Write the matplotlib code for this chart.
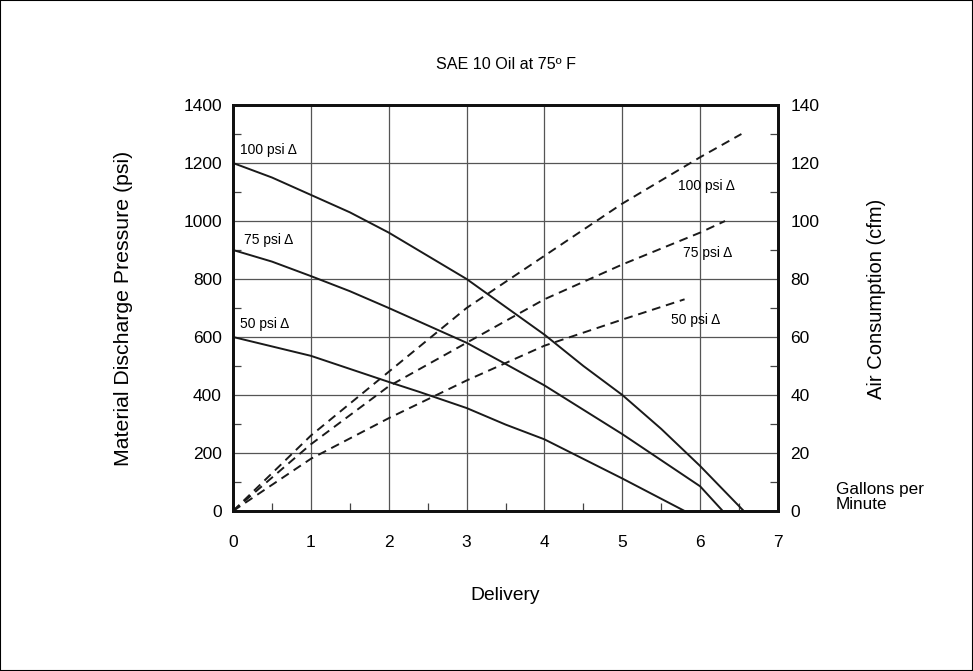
import numpy as np
import matplotlib
matplotlib.use('Agg')
import matplotlib.pyplot as plt
from matplotlib.patches import Rectangle
from matplotlib.ticker import MultipleLocator

plt.rcParams['font.family'] = ['Liberation Sans', 'DejaVu Sans']

# Delivery (gpm) vs material discharge pressure (psi), solid curves
x_p100 = [0, 0.5, 1, 1.5, 2, 3, 3.5, 4, 4.5, 5, 5.5, 6, 6.56]
p_100 = [1200, 1150, 1090, 1030, 960, 800, 704, 608, 500, 400, 283, 155, 0]
x_p75 = [0, 0.5, 1, 1.5, 2, 3, 3.5, 4, 5, 6, 6.29]
p_75 = [900, 860, 810, 758, 700, 580, 507, 433, 265, 85, 0]
x_p50 = [0, 1, 2, 2.4, 3, 3.5, 4, 5, 5.8]
p_50 = [600, 535, 445, 410, 355, 298, 247, 112, 0]

# Delivery vs air consumption (cfm), dashed curves
x_a100 = [0, 1, 2, 3, 4, 5, 6, 6.53]
a_100 = [0, 26, 48, 70, 88, 106, 122, 130]
x_a75 = [0, 1, 2, 3, 4, 5, 6, 6.32]
a_75 = [0, 23, 43, 58, 73, 85, 96, 100]
x_a50 = [0, 1, 2, 3, 4, 5, 5.8]
a_50 = [0, 18, 32, 45, 57, 66, 73]

fig = plt.figure(figsize=(9.73, 6.71), dpi=100)
ax = fig.add_axes([0.2395, 0.2385, 0.5601, 0.605])
ax2 = ax.twinx()

lc = '#1a1a1a'
for xs, ys in [(x_p100, p_100), (x_p75, p_75), (x_p50, p_50)]:
    ax.plot(xs, ys, '-', color=lc, lw=1.4)
for xs, ys in [(x_a100, a_100), (x_a75, a_75), (x_a50, a_50)]:
    ax2.plot(xs, ys, '--', color=lc, lw=1.4, dashes=(4.5, 3))

ax.set_xlim(0, 7)
ax.set_ylim(0, 1400)
ax2.set_ylim(0, 140)

ax.xaxis.set_major_locator(MultipleLocator(1))
ax.xaxis.set_minor_locator(MultipleLocator(0.5))
ax.yaxis.set_major_locator(MultipleLocator(200))
ax.yaxis.set_minor_locator(MultipleLocator(100))
ax2.yaxis.set_major_locator(MultipleLocator(20))
ax2.yaxis.set_minor_locator(MultipleLocator(10))

ax.grid(True, which='major', color='#555555', lw=0.9)
ax.tick_params(which='major', length=0, labelsize=12.5)
ax.tick_params(axis='y', which='major', pad=8)
ax.tick_params(axis='x', which='major', pad=17)
ax.tick_params(which='minor', direction='in', length=6, width=0.9, color='#444444')
ax.tick_params(axis='y', right=False)
ax2.tick_params(which='major', length=0, labelsize=12.5, pad=9)
ax2.tick_params(which='minor', direction='in', length=6, width=0.9, color='#444444')

for a in (ax, ax2):
    for s in a.spines.values():
        s.set_linewidth(2.0)
        s.set_color('#111111')

ax.set_ylabel('Material Discharge Pressure (psi)', fontsize=15.3, labelpad=36)
ax2.set_ylabel('Air Consumption (cfm)', fontsize=14.5)
ax2.yaxis.set_label_coords(1.164, 0.522)
ax.set_xlabel('Delivery', fontsize=13.9, labelpad=27)
ax.set_title('SAE 10 Oil at 75\u00ba F', fontsize=11.6, pad=26)

# curve labels
fs = 10
ax.text(0.09, 1245, '100 psi \u0394', fontsize=fs, va='center')
ax.text(0.14, 935, '75 psi \u0394', fontsize=fs, va='center')
ax.text(0.09, 645, '50 psi \u0394', fontsize=fs, va='center')
ax2.text(5.71, 112, '100 psi \u0394', fontsize=fs, va='center')
ax2.text(5.78, 89, '75 psi \u0394', fontsize=fs, va='center')
ax2.text(5.63, 66, '50 psi \u0394', fontsize=fs, va='center')

fig.text(836 / 973, 1 - 497 / 671, 'Gallons per\nMinute', fontsize=12.3,
         va='center', ha='left', linespacing=1.0)

fig.patches.append(Rectangle((0, 0), 1, 1, transform=fig.transFigure,
                             fill=False, edgecolor='black', lw=1.5))

fig.savefig('out.png', dpi=100, facecolor='white')
